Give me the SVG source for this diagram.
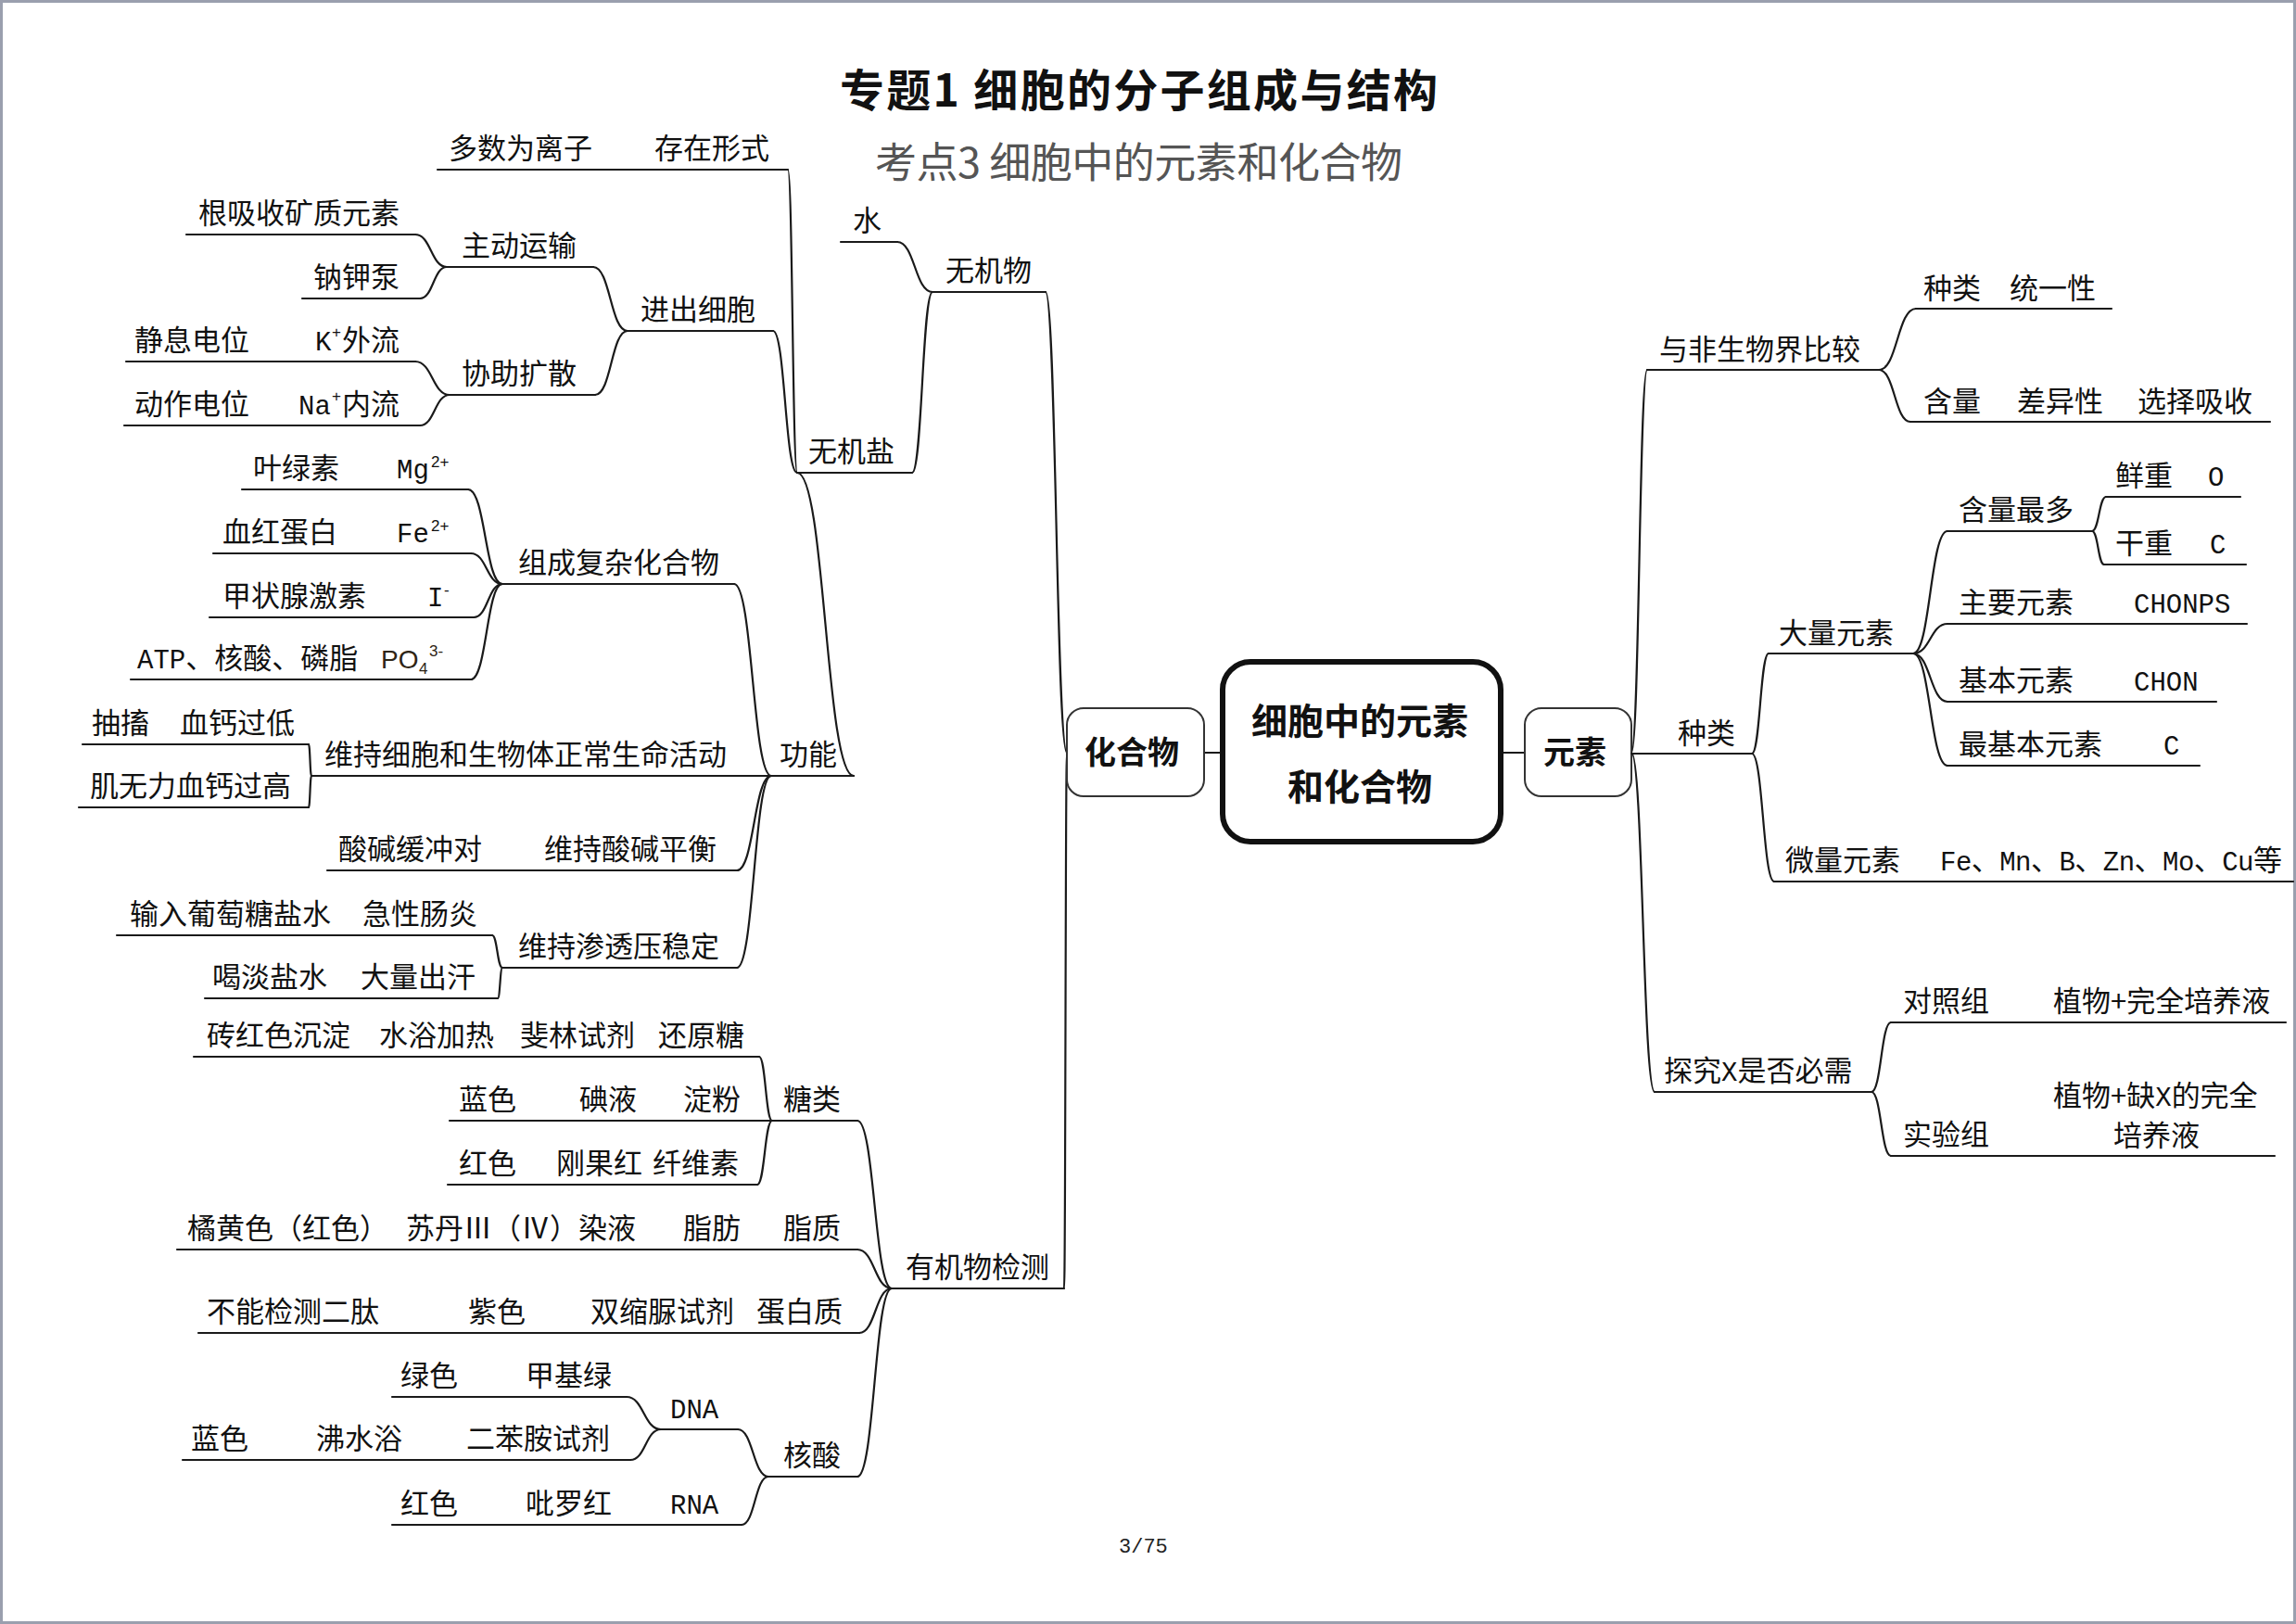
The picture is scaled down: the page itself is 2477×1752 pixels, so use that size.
<svg xmlns="http://www.w3.org/2000/svg" width="2477" height="1752" viewBox="0 0 2477 1752">
<style>
.t{font-family:"Noto Sans CJK SC","Liberation Sans",sans-serif;font-size:31px;fill:#111}
.m{font-family:"Liberation Mono","Noto Sans CJK SC",monospace;font-size:29px}
.sup{font-family:"Liberation Sans",sans-serif;font-size:17px;fill:#111}
.ln{stroke:#1a1a1a;stroke-width:2.2;fill:none;stroke-linecap:round}
.cn{stroke:#1a1a1a;stroke-width:2.2;fill:none;stroke-linecap:round}
.bx{fill:#fff;stroke:#333;stroke-width:2}
.bold{font-family:"Noto Sans CJK SC","Liberation Sans",sans-serif;font-weight:700;fill:#111}
</style>
<rect x="1.5" y="1.5" width="2474" height="1749" fill="#fff" stroke="#9a9fae" stroke-width="3"/>

<g id="title">
<text x="906" y="115" class="bold" font-size="48" fill="#222" textLength="645" lengthAdjust="spacing">专题1  细胞的分子组成与结构</text>
<text x="944" y="192" font-family="Noto Sans CJK SC,sans-serif" font-size="45" fill="#555" textLength="569" lengthAdjust="spacing">考点3 细胞中的元素和化合物</text>
</g>

<g id="connectors">
<path class="cn" d="M1299 812H1319M1619 812H1645"/>
<path class="cn" d="M1151 812C1139.5 812 1139.5 315 1128 315"/>
<path class="cn" d="M1151 812C1149.5 812 1149.5 1390 1148 1390"/>
<path class="cn" d="M1006 315C987 315 987 261 968 261"/>
<path class="cn" d="M1006 315C995 315 995 510 984 510"/>
<path class="cn" d="M860 510C855 510 855 183 850 183"/>
<path class="cn" d="M860 510C847 510 847 357 834 357"/>
<path class="cn" d="M860 510C890.5 510 890.5 837 921 837"/>
<path class="cn" d="M677 357C658.5 357 658.5 288 640 288"/>
<path class="cn" d="M677 357C659.5 357 659.5 426 642 426"/>
<path class="cn" d="M482 288C465 288 465 253 448 253"/>
<path class="cn" d="M482 288C467.5 288 467.5 322 453 322"/>
<path class="cn" d="M485 426C466.5 426 466.5 390 448 390"/>
<path class="cn" d="M485 426C469 426 469 459 453 459"/>
<path class="cn" d="M832 837C812 837 812 630 792 630"/>
<path class="cn" d="M832 837C813.5 837 813.5 939 795 939"/>
<path class="cn" d="M832 837C813.5 837 813.5 1044 795 1044"/>
<path class="cn" d="M542 630C523.5 630 523.5 528 505 528"/>
<path class="cn" d="M542 630C525 630 525 597 508 597"/>
<path class="cn" d="M542 630C526.5 630 526.5 666 511 666"/>
<path class="cn" d="M542 630C525 630 525 733 508 733"/>
<path class="cn" d="M336 837C334.5 837 334.5 803 333 803"/>
<path class="cn" d="M336 837C334.5 837 334.5 871 333 871"/>
<path class="cn" d="M542 1044C536.5 1044 536.5 1009 531 1009"/>
<path class="cn" d="M542 1044C539.5 1044 539.5 1077 537 1077"/>
<path class="cn" d="M962 1390C943.5 1390 943.5 1209 925 1209"/>
<path class="cn" d="M962 1390C943.5 1390 943.5 1348 925 1348"/>
<path class="cn" d="M962 1390C944.5 1390 944.5 1438 927 1438"/>
<path class="cn" d="M962 1390C943.5 1390 943.5 1593 925 1593"/>
<path class="cn" d="M833 1209C826 1209 826 1140 819 1140"/>
<path class="cn" d="M833 1209C825 1209 825 1278 817 1278"/>
<path class="cn" d="M829 1593C812.5 1593 812.5 1542 796 1542"/>
<path class="cn" d="M829 1593C814.5 1593 814.5 1645 800 1645"/>
<path class="cn" d="M713 1542C694.5 1542 694.5 1507 676 1507"/>
<path class="cn" d="M713 1542C696.5 1542 696.5 1575 680 1575"/>
<path class="cn" d="M1760 812C1768.5 812 1768.5 399 1777 399"/>
<path class="cn" d="M1760 812C1772.5 812 1772.5 1178 1785 1178"/>
<path class="cn" d="M2027 399C2047 399 2047 333 2067 333"/>
<path class="cn" d="M2027 399C2044 399 2044 455 2061 455"/>
<path class="cn" d="M1890 813C1899 813 1899 705 1908 705"/>
<path class="cn" d="M1890 813C1902 813 1902 951 1914 951"/>
<path class="cn" d="M2064 705C2082.5 705 2082.5 573 2101 573"/>
<path class="cn" d="M2064 705C2082.5 705 2082.5 673 2101 673"/>
<path class="cn" d="M2064 705C2082.5 705 2082.5 757 2101 757"/>
<path class="cn" d="M2064 705C2082.5 705 2082.5 826 2101 826"/>
<path class="cn" d="M2257 573C2264.5 573 2264.5 536 2272 536"/>
<path class="cn" d="M2257 573C2263.5 573 2263.5 609 2270 609"/>
<path class="cn" d="M2019 1178C2029.5 1178 2029.5 1103 2040 1103"/>
<path class="cn" d="M2019 1178C2029.5 1178 2029.5 1247 2040 1247"/>
</g>

<g id="root">
<rect x="1319" y="714" width="300" height="194" rx="30" fill="#fff" stroke="#111" stroke-width="6"/>
<text x="1467" y="792" class="bold" font-size="39" text-anchor="middle">细胞中的元素</text>
<text x="1467" y="863" class="bold" font-size="39" text-anchor="middle">和化合物</text>
</g>
<g id="n-huahewu">
<rect class="bx" x="1151" y="764" width="148" height="95" rx="18"/>
<text x="1221" y="824" class="bold" font-size="34" text-anchor="middle">化合物</text>
</g>
<g id="n-yuansu">
<rect class="bx" x="1645" y="764" width="115" height="95" rx="18"/>
<text x="1699" y="824" class="bold" font-size="34" text-anchor="middle">元素</text>
</g>

<g id="n-wujiwu"><path class="ln" d="M1006 315H1128"/><text class="t" x="1020" y="303">无机物</text></g>
<g id="n-shui"><path class="ln" d="M907 261H968"/><text class="t" x="920" y="249">水</text></g>
<g id="n-wujiyan"><path class="ln" d="M860 510H984"/><text class="t" x="872" y="498">无机盐</text></g>
<g id="n-cunzai"><path class="ln" d="M472 183H850"/><text class="t" x="484" y="171">多数为离子</text><text class="t" x="706" y="171">存在形式</text></g>
<g id="n-jinchu"><path class="ln" d="M677 357H834"/><text class="t" x="691" y="345">进出细胞</text></g>
<g id="n-zhudong"><path class="ln" d="M482 288H640"/><text class="t" x="498" y="276">主动运输</text></g>
<g id="n-genxishou"><path class="ln" d="M201 253H448"/><text class="t" x="214" y="241">根吸收矿质元素</text></g>
<g id="n-najiabeng"><path class="ln" d="M326 322H453"/><text class="t" x="338" y="310">钠钾泵</text></g>
<g id="n-xiezhu"><path class="ln" d="M485 426H642"/><text class="t" x="498" y="414">协助扩散</text></g>
<g id="n-jingxi"><path class="ln" d="M136 390H448"/><text class="t" x="145" y="378">静息电位</text><text class="t m" x="340" y="378">K</text><text class="sup" x="358" y="364">+</text><text class="t" x="369" y="378">外流</text></g>
<g id="n-dongzuo"><path class="ln" d="M134 459H453"/><text class="t" x="145" y="447">动作电位</text><text class="t m" x="322" y="447">Na</text><text class="sup" x="358" y="433">+</text><text class="t" x="369" y="447">内流</text></g>
<g id="n-gongneng"><path class="ln" d="M832 837H921"/><text class="t" x="841" y="825">功能</text></g>
<g id="n-zucheng"><path class="ln" d="M542 630H792"/><text class="t" x="559" y="618">组成复杂化合物</text></g>
<g id="n-yelvsu"><path class="ln" d="M261 528H505"/><text class="t" x="273" y="516">叶绿素</text><text class="t m" x="428" y="516">Mg</text><text class="sup" x="465" y="504">2+</text></g>
<g id="n-xuehong"><path class="ln" d="M230 597H508"/><text class="t" x="240" y="585">血红蛋白</text><text class="t m" x="428" y="585">Fe</text><text class="sup" x="465" y="573">2+</text></g>
<g id="n-jiazhuang"><path class="ln" d="M226 666H511"/><text class="t" x="240" y="654">甲状腺激素</text><text class="t m" x="461" y="654">I</text><text class="sup" x="479" y="642">-</text></g>
<g id="n-atp"><path class="ln" d="M141 733H508"/><text class="t" x="148" y="721"><tspan class="m">ATP</tspan>、核酸、磷脂</text><text x="411" y="721" font-family="Liberation Sans,sans-serif" font-size="28" fill="#2e2415">PO</text><text x="452" y="727" font-family="Liberation Sans,sans-serif" font-size="17" fill="#2e2415">4</text><text x="463" y="708" font-family="Liberation Sans,sans-serif" font-size="17" fill="#2e2415">3-</text></g>
<g id="n-weichi"><path class="ln" d="M336 837H832"/><text class="t" x="350" y="825">维持细胞和生物体正常生命活动</text></g>
<g id="n-chouchu"><path class="ln" d="M89 803H333"/><text class="t" x="99" y="791">抽搐</text><text class="t" x="194" y="791">血钙过低</text></g>
<g id="n-jiwuli"><path class="ln" d="M85 871H333"/><text class="t" x="97" y="859">肌无力血钙过高</text></g>
<g id="n-suanjian"><path class="ln" d="M353 939H795"/><text class="t" x="365" y="927">酸碱缓冲对</text><text class="t" x="587" y="927">维持酸碱平衡</text></g>
<g id="n-shentou"><path class="ln" d="M542 1044H795"/><text class="t" x="559" y="1032">维持渗透压稳定</text></g>
<g id="n-shuru"><path class="ln" d="M126 1009H531"/><text class="t" x="140" y="997">输入葡萄糖盐水</text><text class="t" x="391" y="997">急性肠炎</text></g>
<g id="n-hedan"><path class="ln" d="M221 1077H537"/><text class="t" x="229" y="1065">喝淡盐水</text><text class="t" x="389" y="1065">大量出汗</text></g>
<g id="n-youjiwu"><path class="ln" d="M962 1390H1148"/><text class="t" x="977" y="1378">有机物检测</text></g>
<g id="n-tanglei"><path class="ln" d="M833 1209H925"/><text class="t" x="845" y="1197">糖类</text></g>
<g id="n-huanyuantang"><path class="ln" d="M209 1140H819"/><text class="t" x="223" y="1128">砖红色沉淀</text><text class="t" x="409" y="1128">水浴加热</text><text class="t" x="561" y="1128">斐林试剂</text><text class="t" x="710" y="1128">还原糖</text></g>
<g id="n-dianfen"><path class="ln" d="M485 1209H833"/><text class="t" x="495" y="1197">蓝色</text><text class="t" x="625" y="1197">碘液</text><text class="t" x="737" y="1197">淀粉</text></g>
<g id="n-xianweisu"><path class="ln" d="M483 1278H817"/><text class="t" x="495" y="1266">红色</text><text class="t" x="600" y="1266">刚果红</text><text class="t" x="704" y="1266">纤维素</text></g>
<g id="n-zhizhi"><path class="ln" d="M825 1348H925"/><text class="t" x="845" y="1336">脂质</text></g>
<g id="n-zhifang"><path class="ln" d="M191 1348H825"/><text class="t" x="202" y="1336">橘黄色（红色）</text><text class="t" x="438" y="1336">苏丹Ⅲ（Ⅳ）染液</text><text class="t" x="737" y="1336">脂肪</text></g>
<g id="n-danbaizhi"><path class="ln" d="M214 1438H927"/><text class="t" x="223" y="1426">不能检测二肽</text><text class="t" x="505" y="1426">紫色</text><text class="t" x="637" y="1426">双缩脲试剂</text><text class="t" x="816" y="1426">蛋白质</text></g>
<g id="n-hesuan"><path class="ln" d="M829 1593H925"/><text class="t" x="845" y="1581">核酸</text></g>
<g id="n-dna"><path class="ln" d="M713 1542H796"/><text class="t m" x="723" y="1530">DNA</text></g>
<g id="n-jijilv"><path class="ln" d="M423 1507H676"/><text class="t" x="432" y="1495">绿色</text><text class="t" x="567" y="1495">甲基绿</text></g>
<g id="n-erbenan"><path class="ln" d="M197 1575H680"/><text class="t" x="206" y="1563">蓝色</text><text class="t" x="341" y="1563">沸水浴</text><text class="t" x="503" y="1563">二苯胺试剂</text></g>
<g id="n-rna"><path class="ln" d="M423 1645H800"/><text class="t" x="432" y="1633">红色</text><text class="t" x="567" y="1633">吡罗红</text><text class="t m" x="723" y="1633">RNA</text></g>

<g id="n-yufei"><path class="ln" d="M1777 399H2027"/><text class="t" x="1790" y="388">与非生物界比较</text></g>
<g id="n-tongyi"><path class="ln" d="M2067 333H2278"/><text class="t" x="2075" y="322">种类</text><text class="t" x="2168" y="322">统一性</text></g>
<g id="n-chayi"><path class="ln" d="M2061 455H2449"/><text class="t" x="2075" y="444">含量</text><text class="t" x="2176" y="444">差异性</text><text class="t" x="2306" y="444">选择吸收</text></g>
<g id="n-zhonglei"><path class="ln" d="M1760 813H1890"/><text class="t" x="1810" y="802">种类</text></g>
<g id="n-daliang"><path class="ln" d="M1908 705H2064"/><text class="t" x="1919" y="694">大量元素</text></g>
<g id="n-hanliang"><path class="ln" d="M2101 573H2257"/><text class="t" x="2113" y="561">含量最多</text></g>
<g id="n-xianzhong"><path class="ln" d="M2272 536H2417"/><text class="t" x="2282" y="524">鲜重</text><text class="t m" x="2382" y="524">O</text></g>
<g id="n-ganzhong"><path class="ln" d="M2270 609H2423"/><text class="t" x="2282" y="597">干重</text><text class="t m" x="2384" y="597">C</text></g>
<g id="n-zhuyao"><path class="ln" d="M2101 673H2424"/><text class="t" x="2113" y="661">主要元素</text><text class="t m" x="2302" y="661">CHONPS</text></g>
<g id="n-jiben"><path class="ln" d="M2101 757H2391"/><text class="t" x="2113" y="745">基本元素</text><text class="t m" x="2302" y="745">CHON</text></g>
<g id="n-zuijiben"><path class="ln" d="M2101 826H2373"/><text class="t" x="2113" y="814">最基本元素</text><text class="t m" x="2334" y="814">C</text></g>
<g id="n-weiliang"><path class="ln" d="M1914 951H2474"/><text class="t" x="1926" y="939">微量元素</text><text class="t" x="2093" y="939" textLength="369" lengthAdjust="spacing"><tspan class="m">Fe</tspan>、<tspan class="m">Mn</tspan>、<tspan class="m">B</tspan>、<tspan class="m">Zn</tspan>、<tspan class="m">Mo</tspan>、<tspan class="m">Cu</tspan>等</text></g>
<g id="n-tanjiu"><path class="ln" d="M1785 1178H2019"/><text class="t" x="1795" y="1166">探究<tspan class="m">X</tspan>是否必需</text></g>
<g id="n-duizhao"><path class="ln" d="M2040 1103H2466"/><text class="t" x="2053" y="1091">对照组</text><text class="t" x="2215" y="1091">植物+完全培养液</text></g>
<g id="n-shiyan"><path class="ln" d="M2040 1247H2454"/><text class="t" x="2053" y="1235">实验组</text><text class="t" x="2215" y="1193">植物+缺<tspan class="m">X</tspan>的完全</text><text class="t" x="2280" y="1236">培养液</text></g>

<g id="page"><text x="1207" y="1675" font-family="Liberation Mono,monospace" font-size="22" fill="#222">3/75</text></g>
</svg>
